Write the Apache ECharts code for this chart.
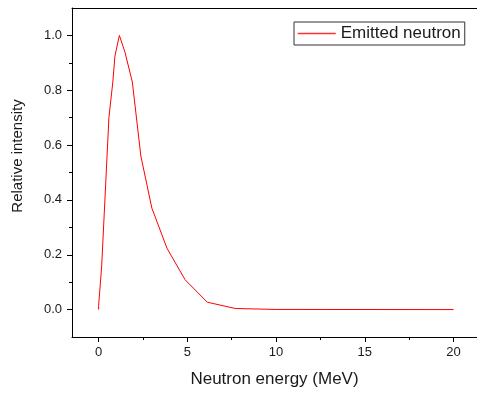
<!DOCTYPE html>
<html>
<head>
<meta charset="utf-8">
<script src="https://cdn.jsdelivr.net/npm/echarts@6/dist/echarts.min.js"></script>
<style>
html,body{margin:0;padding:0;background:#fff;}
#chart{width:477px;height:394px;}
</style>
</head>
<body>
<div id="chart"></div>
<script>
// Data
const energy = [0, 0, 0.17, 0.23, 0.58, 0.8, 0.92, 1.17, 1.48, 1.9, 2.38, 3.0, 3.85, 4.87, 6.12, 7.7, 10, 20];
const intensity = [0, 0.015, 0.155, 0.155, 0.70, 0.83, 0.925, 1.0, 0.94, 0.83, 0.56, 0.37, 0.224, 0.109, 0.027, 0.004, 0.0005, 0];
const xMajorTicks = [0, 5, 10, 15, 20];
const xMinorTicks = [2.5, 7.5, 12.5, 17.5];
const yMajorTicks = [0, 0.2, 0.4, 0.6, 0.8, 1.0];
const yMinorTicks = [0.1, 0.3, 0.5, 0.7, 0.9];
const seriesName = 'Emitted neutron';
const xTitle = 'Neutron energy (MeV)';
const yTitle = 'Relative intensity';

const FONT = "'Liberation Sans', Arial, sans-serif";
const axisColor = '#000';
const textColor = '#1a1a1a';

const chart = echarts.init(document.getElementById('chart'), null, {renderer: 'canvas'});
const xRange = {min: -1.5, max: 21.32};
const yRange = {min: -0.1, max: 1.1};

const option = {
  animation: false,
  backgroundColor: '#fff',
  grid: {left: 72, top: 8, right: 0, bottom: 57, containLabel: false},
  legend: {
    left: 294, top: 22,
    data: [seriesName],
    orient: 'horizontal',
    borderColor: '#333', borderWidth: 1,
    padding: [3, 4, 3, 3],
    itemWidth: 38, itemHeight: 14, itemGap: 5,
    itemStyle: {opacity: 0},
    lineStyle: {color: '#ff3030', width: 1.5},
    textStyle: {fontFamily: FONT, fontSize: 17, color: textColor}
  },
  xAxis: [
    {
      type: 'value', position: 'bottom', ...xRange,
      axisLine: {show: true, onZero: false, lineStyle: {color: axisColor, width: 1}},
      axisTick: {show: true, customValues: xMajorTicks, length: 5, lineStyle: {color: axisColor}},
      axisLabel: {show: true, customValues: xMajorTicks, margin: 9, fontFamily: FONT, fontSize: 13, color: textColor,
        formatter: v => String(v)},
      splitLine: {show: false},
      name: xTitle, nameLocation: 'middle', nameGap: 34,
      nameTextStyle: {fontFamily: FONT, fontSize: 17, color: textColor}
    },
    {
      type: 'value', position: 'bottom', ...xRange,
      axisLine: {show: false, onZero: false},
      axisTick: {show: true, customValues: xMinorTicks, length: 3, lineStyle: {color: axisColor}},
      axisLabel: {show: false}, splitLine: {show: false}
    },
    {
      type: 'value', position: 'top', ...xRange,
      axisLine: {show: true, onZero: false, lineStyle: {color: axisColor, width: 1}},
      axisTick: {show: false}, axisLabel: {show: false}, splitLine: {show: false}
    }
  ],
  yAxis: [
    {
      type: 'value', position: 'left', ...yRange,
      axisLine: {show: true, onZero: false, lineStyle: {color: axisColor, width: 1}},
      axisTick: {show: true, customValues: yMajorTicks, length: 5, lineStyle: {color: axisColor}},
      axisLabel: {show: true, customValues: yMajorTicks, margin: 10, fontFamily: FONT, fontSize: 13, color: textColor,
        formatter: v => v.toFixed(1)},
      splitLine: {show: false}
    },
    {
      type: 'value', position: 'left', ...yRange,
      axisLine: {show: false, onZero: false},
      axisTick: {show: true, customValues: yMinorTicks, length: 3, lineStyle: {color: axisColor}},
      axisLabel: {show: false}, splitLine: {show: false}
    }
  ],
  graphic: [{
    type: 'text', x: 18, y: 156, rotation: Math.PI / 2,
    style: {text: yTitle, fontFamily: FONT, fontSize: 15, fill: textColor, align: 'center', verticalAlign: 'middle'}
  }],
  series: [{
    name: seriesName, type: 'line', xAxisIndex: 0, yAxisIndex: 0,
    data: energy.map((e, i) => [e, intensity[i]]),
    symbol: 'none', showSymbol: false,
    lineStyle: {color: '#ff0000', width: 1},
    itemStyle: {color: '#ff0000'}
  }]
};
chart.setOption(option);
</script>
</body>
</html>
